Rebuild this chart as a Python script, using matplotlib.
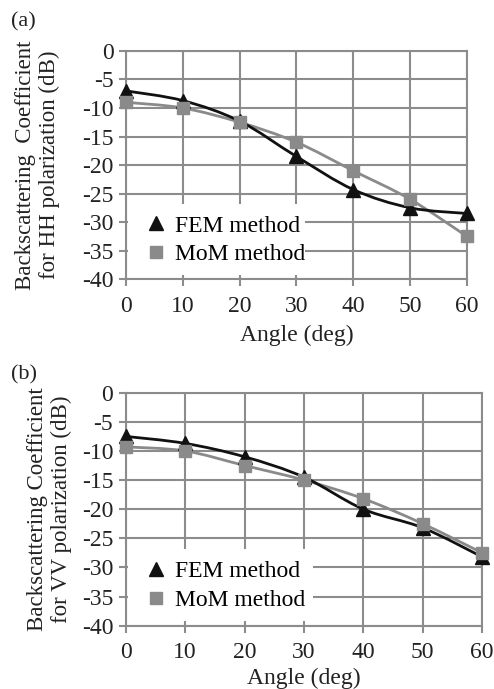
import matplotlib
matplotlib.use('Agg')
import matplotlib.pyplot as plt
import numpy as np
from matplotlib.path import Path
from matplotlib.patches import PathPatch, Rectangle

plt.rcParams['font.family'] = ['Liberation Serif', 'DejaVu Serif']

# data
angles = [0, 10, 20, 30, 40, 50, 60]
fem_hh = [-7.0, -8.7, -12.3, -18.5, -24.3, -27.5, -28.5]
mom_hh = [-9.0, -10.0, -12.5, -16.0, -21.0, -26.0, -32.5]
fem_vv = [-7.5, -8.7, -11.0, -14.5, -20.0, -23.2, -28.2]
mom_vv = [-9.3, -10.0, -12.5, -15.0, -18.2, -22.5, -27.5]
y_ticks = [0, -5, -10, -15, -20, -25, -30, -35, -40]

BLACK = '#111111'
GRAY = '#8a8a8a'
GRID = '#8c8c8c'
TEXT = '#222222'


def smooth_path(x, y):
    # Excel-like smoothed line: cubic Bezier segments through the points
    x = np.asarray(x, float)
    y = np.asarray(y, float)
    verts = [(x[0], y[0])]
    codes = [Path.MOVETO]
    n = len(x)
    for i in range(n - 1):
        p0 = (x[max(i - 1, 0)], y[max(i - 1, 0)])
        p1 = (x[i], y[i])
        p2 = (x[i + 1], y[i + 1])
        p3 = (x[min(i + 2, n - 1)], y[min(i + 2, n - 1)])
        c1 = (p1[0] + (p2[0] - p0[0]) / 6, p1[1] + (p2[1] - p0[1]) / 6)
        c2 = (p2[0] - (p3[0] - p1[0]) / 6, p2[1] - (p3[1] - p1[1]) / 6)
        verts += [c1, c2, p2]
        codes += [Path.CURVE4] * 3
    return Path(verts, codes)


def draw_panel(ax, fem, mom, ylabel, ylabel_x, xlabel_pad):
    ax.set_xlim(0, 60)
    ax.set_ylim(-40, 0)
    ax.set_xticks(angles)
    ax.set_yticks(y_ticks)
    ax.set_yticklabels([str(v) for v in y_ticks])
    ax.grid(True, color=GRID, linewidth=1.5)
    ax.set_axisbelow(True)
    for s in ax.spines.values():
        s.set_color(GRID)
        s.set_linewidth(1.5)
    ax.tick_params(axis='both', colors=GRID, width=1.5, length=5, labelsize=17,
                   labelcolor=TEXT)
    ax.tick_params(axis='x', pad=7)
    ax.tick_params(axis='y', pad=4)

    # white legend area hiding the grid
    ax.add_patch(Rectangle((0.006, 0.018), 0.52, 0.31, transform=ax.transAxes,
                           facecolor='white', edgecolor='none', zorder=2))

    ax.add_patch(PathPatch(smooth_path(angles, mom), fill=False, edgecolor=GRAY,
                           linewidth=2.0, zorder=3, clip_on=False))
    ax.add_patch(PathPatch(smooth_path(angles, fem), fill=False, edgecolor=BLACK,
                           linewidth=2.0, zorder=4, clip_on=False))
    ax.plot(angles, fem, linestyle='none', marker='^', markersize=10, color=BLACK,
            zorder=5, clip_on=False, label='FEM method')
    ax.plot(angles, mom, linestyle='none', marker='s', markersize=9, color=GRAY,
            zorder=6, clip_on=False, label='MoM method')

    leg = ax.legend(loc='center left', bbox_to_anchor=(0.02, 0.17), fontsize=17,
                    frameon=False, handletextpad=0.3, borderpad=0.0,
                    labelspacing=0.3, handlelength=1.0)
    leg.set_zorder(7)

    ax.set_xlabel('Angle (deg)', fontsize=17, color=TEXT, labelpad=xlabel_pad)
    ax.set_ylabel(ylabel, fontsize=16.5, color=TEXT, linespacing=1.15)
    ax.yaxis.set_label_coords(ylabel_x, 0.5)


fig = plt.figure(figsize=(4.94, 6.89), dpi=100)
ax1 = fig.add_axes([0.255, 0.595, 0.690, 0.331])
ax2 = fig.add_axes([0.2545, 0.092, 0.7215, 0.338])

draw_panel(ax1, fem_hh, mom_hh, 'Backscattering  Coefficient\nfor HH polarization (dB)', -0.195, 6)
draw_panel(ax2, fem_vv, mom_vv, 'Backscattering Coefficient\nfor VV polarization (dB)', -0.152, 3)

fig.text(0.022, 0.962, '(a)', fontsize=16, color=TEXT)
fig.text(0.022, 0.449, '(b)', fontsize=16, color=TEXT)

fig.savefig('out.png', dpi=100, facecolor='white')
